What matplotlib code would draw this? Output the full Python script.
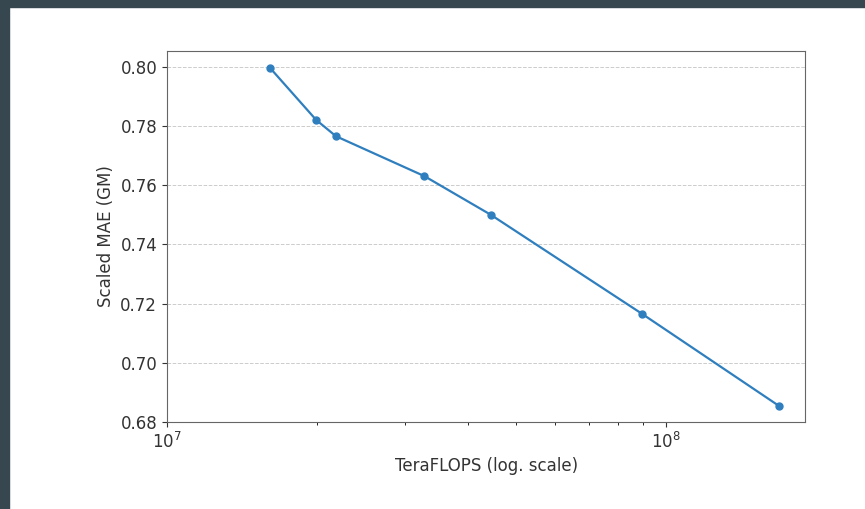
import matplotlib
matplotlib.use("Agg")
import matplotlib.pyplot as plt
from matplotlib.patches import Rectangle

# compute (TeraFLOPS) vs scaled MAE
teraflops = [1.61e7, 1.99e7, 2.18e7, 3.28e7, 4.45e7, 8.95e7, 1.68e8]
scaled_mae = [0.7995, 0.782, 0.7765, 0.763, 0.750, 0.7165, 0.6855]
y_ticks = [0.68, 0.70, 0.72, 0.74, 0.76, 0.78, 0.80]

fig = plt.figure(figsize=(8.65, 5.09), dpi=100)

# dark frame from the screenshot (top and left strips)
fig.patches.append(Rectangle((0, 1 - 7 / 509), 1, 7 / 509, transform=fig.transFigure,
                             color="#37474f", zorder=-1))
fig.patches.append(Rectangle((0, 0), 9 / 865, 1, transform=fig.transFigure,
                             color="#37474f", zorder=-1))

ax = fig.add_axes([0.193, 0.171, 0.738, 0.729])
ax.plot(teraflops, scaled_mae, marker="o", markersize=5, linewidth=1.6, color="#2f7fbf")
ax.set_xscale("log")
ax.set_xlim(left=1e7, right=1.9e8)
ax.set_ylim(0.68, 0.8053)
ax.set_yticks(y_ticks)
ax.set_yticklabels([f"{v:.2f}" for v in y_ticks])
ax.yaxis.grid(True, linestyle="--", color="#cccccc", linewidth=0.7)
ax.tick_params(labelsize=12, colors="#333333")
for s in ax.spines.values():
    s.set_color("#666666")
ax.set_xlabel("TeraFLOPS (log. scale)", fontsize=12, color="#333333")
ax.set_ylabel("Scaled MAE (GM)", fontsize=12, color="#333333")

fig.savefig("out.png", dpi=100)
